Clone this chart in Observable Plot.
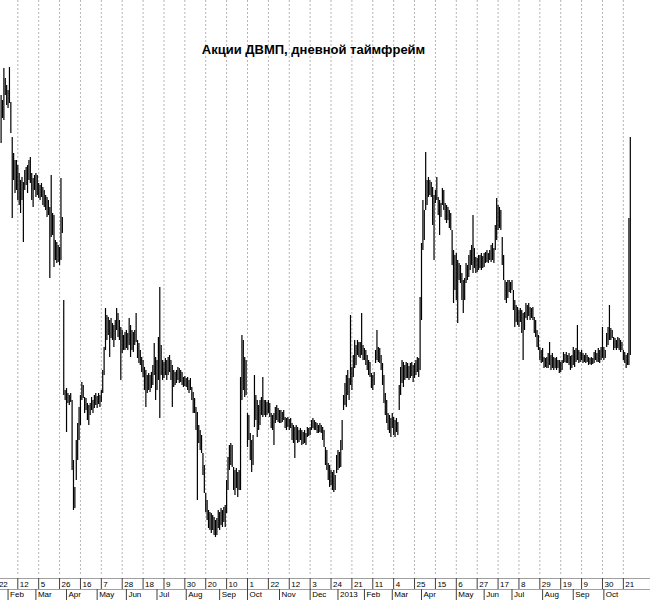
<!DOCTYPE html>
<html>
<head>
<meta charset="utf-8">
<script src="https://cdn.jsdelivr.net/npm/d3@7"></script>
<script src="https://cdn.jsdelivr.net/npm/@observablehq/plot@0.6"></script>
<style>
  html, body { margin: 0; padding: 0; background: #fff; }
  #chart svg { display: block; }
</style>
</head>
<body>
<div id="chart"></div>
<script>
const title = "Акции ДВМП, дневной таймфрейм";

// Daily bars, prices in kopecks (high / low), one entry per trading day
const high = [
905,900,932,922,915,910,933,898,863,847,
840,840,835,827,820,823,818,830,833,835,
840,843,827,822,825,827,825,817,815,817,
813,810,805,803,800,793,825,787,785,760,
758,755,753,822,783,700,610,612,607,605,
607,600,540,513,560,577,593,605,618,615,
603,602,597,595,597,603,600,605,607,604,
607,605,610,630,653,692,685,683,680,682,
677,675,680,692,687,680,673,670,665,668,
670,667,682,675,670,668,670,687,660,657,
650,643,640,633,630,625,627,625,628,635,
657,643,640,663,713,655,640,638,642,640,
643,645,640,635,630,628,630,633,632,630,
628,623,624,622,623,620,622,613,608,602,
593,588,575,570,565,547,535,507,500,490,
488,487,485,483,480,482,490,488,492,490,
493,495,520,543,555,557,555,533,530,532,
528,530,623,665,660,643,640,587,585,567,
560,565,625,605,600,595,600,603,623,600,
600,598,600,597,587,585,587,593,595,592,
590,590,588,590,583,582,583,581,582,577,
575,573,575,573,570,572,570,568,570,567,
573,572,573,580,582,580,578,577,575,577,
575,573,570,553,550,537,535,530,528,530,
525,545,550,548,560,580,605,617,625,630,
622,685,633,645,660,655,660,658,658,687,
655,652,650,645,640,638,627,625,628,650,
670,653,652,645,637,625,607,600,587,585,
582,587,583,580,582,578,615,633,640,638,
635,638,637,634,637,638,635,637,640,643,
642,703,757,800,790,848,820,823,820,818,
813,805,810,823,803,800,797,812,810,797,
795,793,790,787,770,750,745,747,740,737,
735,727,720,722,737,735,745,750,755,785,
752,743,742,745,745,747,744,747,748,750,
747,750,755,757,752,775,802,795,793,790,
763,745,720,718,720,720,718,720,710,700,
695,693,690,692,690,687,688,697,695,697,
693,692,693,683,680,670,665,653,650,652,
643,642,643,647,658,645,647,643,642,643,
640,640,638,640,648,646,648,645,647,644,
645,653,650,652,675,650,648,650,647,645,
647,645,643,642,643,642,648,650,647,652,
650,653,673,653,650,667,673,695,672,670,
663,662,660,663,662,660,658,650,648,645,
647,782,863
];
const low = [
857,882,880,905,895,892,897,867,782,820,
807,810,800,795,787,800,758,810,815,807,
820,817,800,793,810,803,805,802,800,803,
795,793,790,783,785,722,763,765,733,740,
737,738,735,740,767,605,600,568,597,595,
598,530,490,492,520,540,560,575,600,602,
587,590,580,575,585,590,587,592,595,592,
596,593,598,607,625,650,660,665,643,662,
660,653,660,670,663,660,620,647,650,650,
652,650,655,643,650,648,655,658,642,637,
635,628,623,610,593,607,610,608,612,615,
625,600,610,620,582,625,620,622,625,620,
625,628,620,593,613,615,617,620,617,618,
615,613,614,613,610,607,610,600,587,587,
570,500,557,550,547,525,507,488,480,472,
470,467,470,465,463,465,472,470,475,473,
478,473,487,510,530,535,533,510,505,512,
503,510,510,600,610,603,605,553,560,540,
528,535,573,580,563,570,575,585,583,585,
583,585,587,583,572,570,555,577,580,578,
577,577,578,580,572,570,573,570,572,560,
557,542,560,557,558,560,555,556,557,555,
563,564,565,570,572,570,570,567,567,568,
567,560,553,535,530,520,513,515,510,508,
510,527,530,532,533,550,590,595,593,605,
600,615,610,623,632,635,645,643,642,645,
640,640,635,630,625,623,612,610,615,637,
640,638,637,630,615,597,585,577,570,567,
563,572,565,563,568,565,590,605,617,613,
620,622,622,620,622,624,618,622,625,628,
623,630,680,750,760,790,795,803,805,803,
775,740,797,800,785,765,783,795,790,780,
777,780,772,770,735,697,710,700,677,720,
717,700,687,700,717,720,723,730,735,727,
732,727,728,730,732,730,732,733,737,738,
737,740,738,740,737,750,760,770,772,770,
735,720,700,697,702,708,707,710,690,673,
678,675,673,678,667,640,670,682,680,684,
680,682,680,667,663,653,650,640,637,638,
632,633,632,632,635,630,632,630,632,630,
632,627,628,630,637,638,637,637,635,630,
632,635,633,638,640,637,638,640,637,638,
637,638,635,636,635,636,637,640,638,638,
637,640,642,640,642,653,655,660,660,662,
650,652,650,652,650,648,650,640,637,632,
635,635,645
];

// Time axis: day labels (every 15 bars) and month labels, with their bar index
const dayLabels = ["22","12","5","26","16","7","28","18","9","30","20","10","1","22","12","3","24","21","11","4","25","15","6","27","17","8","29","19","9","30","21"];
const dayTickBar = [-3,12,27,42,57,72,87,102,117,132,147,162,177,192,207,222,237,252,267,282,297,312,327,342,357,372,387,402,417,432,447];
const monthLabels = ["Feb","Mar","Apr","May","Jun","Jul","Aug","Sep","Oct","Nov","Dec","2013","Feb","Mar","Apr","May","Jun","Jul","Aug","Sep","Oct"];
const monthTickBar = [5,25,47,69,90,112,133,157,177,200,222,242,261,281,302,327,347,367,389,411,433];

const bars = high.map((h, i) => ({ k: i, hi: h / 100, lo: low[i] / 100 }));
const dayTicks = dayLabels.map((label, i) => ({ k: dayTickBar[i], label }));
const monthTicks = monthLabels.map((label, i) => ({ k: monthTickBar[i], label }));

const font = "'Liberation Sans', Arial, sans-serif";

const chart = Plot.plot({
  width: 650,
  height: 600,
  marginTop: 0,
  marginBottom: 28,
  marginLeft: 0,
  marginRight: 0,
  x: { domain: [-0.43, 466.5], axis: null },
  y: { domain: [4.28, 10], axis: null },
  style: { background: "#fff", fontFamily: font, overflow: "hidden" },
  marks: [
    // vertical dotted grid
    Plot.ruleX(dayTicks, { x: "k", stroke: "#b4b4b4", strokeDasharray: "2,2", strokeWidth: 1, insetBottom: -4 }),
    // daily bars
    Plot.ruleX(bars, { x: "k", y1: "lo", y2: "hi", stroke: "#000", strokeWidth: 1.2 }),
    // title
    Plot.text([title], {
      frameAnchor: "top", dx: -12, dy: 49, text: d => d,
      fontSize: 13, fontWeight: "bold", fill: "#000", lineAnchor: "middle"
    }),
    // time axis lines
    Plot.ruleY([4.28], { stroke: "#a0a0a0", dy: 6 }),
    Plot.ruleY([4.28], { stroke: "#a0a0a0", dy: 17 }),
    // day row
    Plot.ruleX(dayTicks, { x: "k", insetTop: 578, insetBottom: -17, stroke: "#404040" }),
    Plot.text(dayTicks, {
      x: "k", text: "label", frameAnchor: "bottom", textAnchor: "start",
      lineAnchor: "middle", dx: 2, dy: 12, fontSize: 8, fill: "#000"
    }),
    // month row
    Plot.ruleX(monthTicks, { x: "k", insetTop: 589, insetBottom: -28, stroke: "#404040" }),
    Plot.text(monthTicks, {
      x: "k", text: "label", frameAnchor: "bottom", textAnchor: "start",
      lineAnchor: "middle", dx: 2, dy: 22, fontSize: 8, fill: "#000"
    })
  ]
});

document.getElementById("chart").appendChild(chart);
</script>
</body>
</html>
